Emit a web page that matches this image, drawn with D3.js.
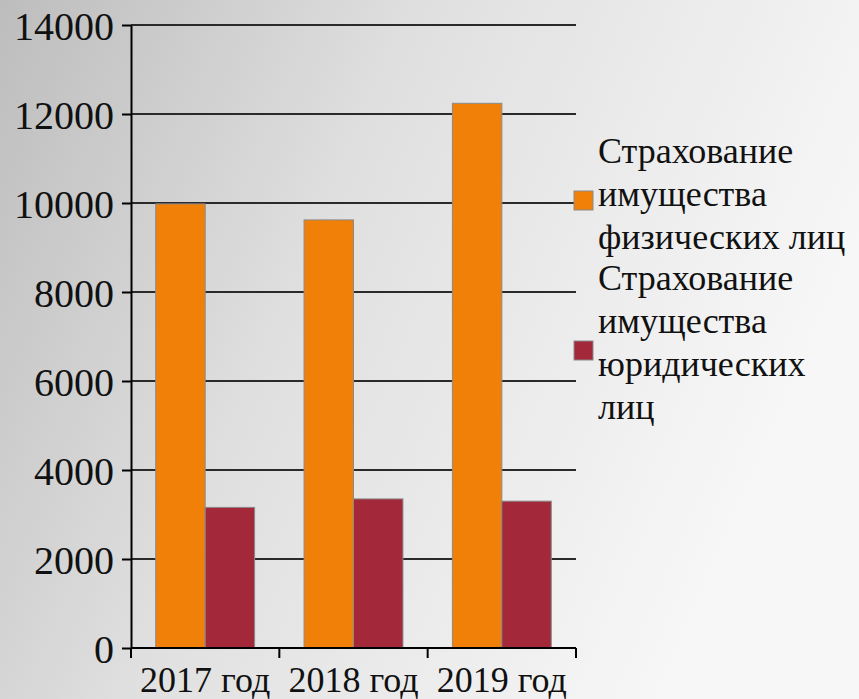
<!DOCTYPE html>
<html>
<head>
<meta charset="utf-8">
<script src="https://cdn.jsdelivr.net/npm/d3@7"></script>
<style>
  body { margin: 0; }
  svg { display: block; }
  svg text { font-family: "Times New Roman", "Liberation Serif", "DejaVu Serif", serif !important; }
</style>
</head>
<body>
<svg id="chart" width="859" height="699"></svg>
<script>
var years = ["2017 год", "2018 год", "2019 год"];
var physical = [9980, 9620, 12240];   // Страхование имущества физических лиц
var legal = [3160, 3350, 3300];       // Страхование имущества юридических лиц
var yTicks = [0, 2000, 4000, 6000, 8000, 10000, 12000, 14000];
var seriesNames = [
    ["Страхование", "имущества", "физических лиц"],
    ["Страхование", "имущества", "юридических", "лиц"]
];
var colors = ["#f08008", "#a2283a"];

var svg = d3.select("svg#chart");

// background gradient
var grad = svg.append("defs").append("linearGradient")
    .attr("id", "bg")
    .attr("x1", 0).attr("y1", 0)
    .attr("x2", 1).attr("y2", 0.35);
grad.append("stop").attr("offset", "0%").attr("stop-color", "#bdbdbd");
grad.append("stop").attr("offset", "45%").attr("stop-color", "#e0e0e0");
grad.append("stop").attr("offset", "100%").attr("stop-color", "#f7f7f7");
svg.append("rect").attr("width", 859).attr("height", 699).attr("fill", "url(#bg)");

// note: "top" is taken by window.top, so plot edges get their own names
var plotLeft = 131, plotRight = 576, plotTop = 25, plotBottom = 648;

var y = d3.scaleLinear().domain([0, 14000]).range([plotBottom, plotTop]);
var x = d3.scaleBand().domain(years).range([plotLeft, plotRight]).padding(0);
var inner = d3.scaleBand().domain([0, 1]).range([0, x.bandwidth()]).paddingOuter(0.5).paddingInner(0);

// gridlines
svg.append("g").selectAll("line")
    .data(yTicks.filter(function (d) { return d > 0; }))
    .enter().append("line")
    .attr("x1", plotLeft).attr("x2", plotRight)
    .attr("y1", function (d) { return y(d); })
    .attr("y2", function (d) { return y(d); })
    .attr("stroke", "#2a2a2a")
    .attr("stroke-width", 2);

// bars
var groups = svg.append("g").selectAll("g")
    .data(years)
    .enter().append("g")
    .attr("transform", function (d) { return "translate(" + x(d) + ",0)"; });

groups.selectAll("rect")
    .data(function (d, i) { return [physical[i], legal[i]]; })
    .enter().append("rect")
    .attr("x", function (d, j) { return inner(j); })
    .attr("width", inner.bandwidth())
    .attr("y", function (d) { return y(d); })
    .attr("height", function (d) { return plotBottom - y(d); })
    .attr("fill", function (d, j) { return colors[j]; })
    .attr("stroke", "#8a8a8a")
    .attr("stroke-width", 1);

// y axis
var yAxis = svg.append("g")
    .attr("transform", "translate(" + plotLeft + ",0)")
    .call(d3.axisLeft(y).tickValues(yTicks).tickFormat(d3.format("d"))
        .tickSize(9).tickPadding(8).tickSizeOuter(0));
yAxis.attr("font-family", null);
yAxis.select(".domain").attr("stroke", "#000").attr("stroke-width", 2);
yAxis.selectAll(".tick line").attr("stroke", "#000").attr("stroke-width", 2);
yAxis.selectAll(".tick text")
    .attr("font-size", 40)
    .attr("fill", "#111")
    .attr("dy", "0.36em");

// x axis
var xAxis = svg.append("g").attr("transform", "translate(0," + plotBottom + ")");
xAxis.append("line").attr("x1", plotLeft).attr("x2", plotRight)
    .attr("stroke", "#000").attr("stroke-width", 2);
xAxis.selectAll("line.tk")
    .data(years.map(function (d) { return x(d); }).concat([plotRight]))
    .enter().append("line")
    .attr("class", "tk")
    .attr("x1", function (d) { return d; }).attr("x2", function (d) { return d; })
    .attr("y1", 0).attr("y2", 10)
    .attr("stroke", "#000").attr("stroke-width", 2);
xAxis.selectAll("text")
    .data(years)
    .enter().append("text")
    .attr("x", function (d) { return x(d) + x.bandwidth() / 2; })
    .attr("y", 44)
    .attr("text-anchor", "middle")
    .attr("font-size", 36)
    .attr("fill", "#111")
    .text(function (d) { return d; });

// legend
var legendTop = [163, 290];
var markerY = [191, 341];
seriesNames.forEach(function (lines, i) {
    svg.append("rect")
        .attr("x", 574).attr("y", markerY[i])
        .attr("width", 19).attr("height", 19)
        .attr("fill", colors[i])
        .attr("stroke", "#8a8a8a").attr("stroke-width", 1);
    var t = svg.append("text")
        .attr("x", 598).attr("y", legendTop[i])
        .attr("font-size", 36)
        .attr("fill", "#111");
    lines.forEach(function (l, k) {
        t.append("tspan").attr("x", 598).attr("dy", k === 0 ? 0 : 43).text(l);
    });
});
</script>
</body>
</html>
